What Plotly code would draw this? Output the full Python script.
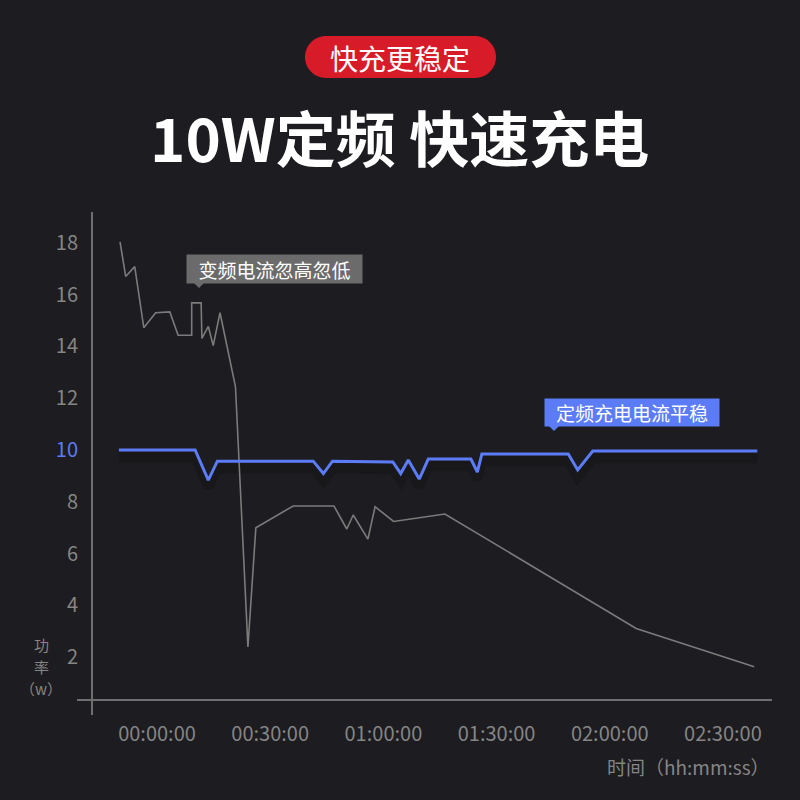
import plotly.graph_objects as go

# ---- data (minutes from start, watts) ----
var_minutes = [-9.8, -8.3, -5.9, -3.5, -0.35, 3.4, 5.6, 9.2, 9.2, 11.7, 11.9, 13.6, 14.9, 16.7,
               20.8, 24.1, 26.2, 36.1, 46.9, 50.3, 52.0, 55.9, 57.8, 62.7, 76.3, 127.0, 158.3]
var_power = [18.04, 16.7, 17.08, 14.72, 15.3, 15.33, 14.43, 14.43, 15.68, 15.68, 14.31, 14.77, 14.03, 15.3,
             12.44, 2.4, 7.0, 7.84, 7.84, 6.95, 7.49, 6.56, 7.81, 7.24, 7.53, 3.11, 1.63]

fix_minutes = [-10.1, 10.1, 13.6, 16.0, 41.4, 44.1, 46.5, 62.5, 64.6, 66.6, 69.5, 71.9, 83.2, 84.9,
               86.1, 109.0, 111.5, 115.5, 159.1]
fix_power = [10.0, 10.0, 8.84, 9.57, 9.57, 9.09, 9.57, 9.54, 9.09, 9.61, 8.88, 9.65, 9.65, 9.15,
             9.85, 9.85, 9.23, 9.96, 9.96]

tick_minutes = [0, 30, 60, 90, 120, 150]
tick_labels = ["00:00:00", "00:30:00", "01:00:00", "01:30:00", "02:00:00", "02:30:00"]
y_ticks = [2, 4, 6, 8, 10, 12, 14, 16, 18]
y_title_lines = ["功", "率", "（w）"]

FONT = "Noto Sans CJK SC"
BG = "#1d1c20"
GRAY_TXT = "#858585"
BLUE = "#5b7cf6"

# plot area in pixels
L, R, T, B = 92, 772, 212, 700
W, H = R - L, B - T


def fx(px):
    return (px - L) / W


def fy(py):
    return (B - py) / H


def path(points):
    return "M " + " L ".join(f"{fx(a):.4f},{fy(b):.4f}" for a, b in points) + " Z"


fig = go.Figure()

# soft shadow under the blue line
fig.add_trace(go.Scatter(x=fix_minutes, y=[v - 0.28 for v in fix_power], mode="lines",
                         line=dict(color="rgba(0,0,0,0.16)", width=10), hoverinfo="skip", showlegend=False))
fig.add_trace(go.Scatter(x=var_minutes, y=var_power, mode="lines", name="变频",
                         line=dict(color="#7b7b7b", width=1.6), showlegend=False))
fig.add_trace(go.Scatter(x=fix_minutes, y=fix_power, mode="lines", name="定频",
                         line=dict(color=BLUE, width=3), showlegend=False))

y_text = [f"<span style='color:{BLUE}'>{v}</span>" if v == 10 else str(v) for v in y_ticks]

fig.update_xaxes(range=[(L - 157) / 3.773, (R - 157) / 3.773], tickvals=tick_minutes, ticktext=tick_labels,
                 showgrid=False, zeroline=False, showline=False, ticks="",
                 ticklabelstandoff=20, tickfont=dict(family=FONT, size=20, color=GRAY_TXT))
fig.update_yaxes(range=[(709 - B) / 25.9, (709 - T) / 25.9], tickvals=y_ticks, ticktext=y_text,
                 showgrid=False, zeroline=False, showline=False, ticks="",
                 ticklabelstandoff=13, tickfont=dict(family=FONT, size=20, color=GRAY_TXT))

shapes = []
# soft radial glow in the background (stacked translucent discs)
for r in range(640, 60, -48):
    shapes.append(dict(type="circle", xref="paper", yref="paper", layer="below",
                       x0=fx(530 - r), x1=fx(530 + r), y0=fy(430 + r), y1=fy(430 - r),
                       fillcolor="rgba(255,255,255,0.0045)", line=dict(width=0)))
shapes += [
    # axis lines (crossed at the corner)
    dict(type="line", xref="paper", yref="paper", x0=fx(77), x1=1, y0=0, y1=0,
         line=dict(color="#6f6f6f", width=2)),
    dict(type="line", xref="paper", yref="paper", x0=0, x1=0, y0=fy(715), y1=1,
         line=dict(color="#6f6f6f", width=2)),
    # red pill
    dict(type="path", xref="paper", yref="paper", layer="below",
         path=(f"M {fx(326):.4f},{fy(36):.4f} L {fx(475):.4f},{fy(36):.4f} "
               f"C {fx(486.6):.4f},{fy(36):.4f} {fx(496):.4f},{fy(45.4):.4f} {fx(496):.4f},{fy(57):.4f} "
               f"C {fx(496):.4f},{fy(68.6):.4f} {fx(486.6):.4f},{fy(78):.4f} {fx(475):.4f},{fy(78):.4f} "
               f"L {fx(326):.4f},{fy(78):.4f} "
               f"C {fx(314.4):.4f},{fy(78):.4f} {fx(305):.4f},{fy(68.6):.4f} {fx(305):.4f},{fy(57):.4f} "
               f"C {fx(305):.4f},{fy(45.4):.4f} {fx(314.4):.4f},{fy(36):.4f} {fx(326):.4f},{fy(36):.4f} Z"),
         fillcolor="#d81b28", line=dict(width=0)),
    # callout pointers
    dict(type="path", xref="paper", yref="paper", path=path([(193, 282), (205, 282), (199, 288)]),
         fillcolor="#6b6b6b", line=dict(width=0)),
    dict(type="path", xref="paper", yref="paper", path=path([(548, 425), (560, 425), (554, 431)]),
         fillcolor=BLUE, line=dict(width=0)),
]

annotations = [
    dict(text="快充更稳定", x=fx(400), y=fy(58), font=dict(family=FONT, size=28, color="white")),
    dict(text="<b>10W定频 快速充电</b>", x=fx(399), y=fy(136), font=dict(family=FONT, size=60, color="white")),
    dict(text="变频电流忽高忽低", x=fx(274.5), y=fy(269), bgcolor="#6b6b6b", width=175, height=28, borderpad=0,
         font=dict(family=FONT, size=19, color="white")),
    dict(text="定频充电电流平稳", x=fx(632), y=fy(412.5), bgcolor=BLUE, width=174, height=27, borderpad=0,
         font=dict(family=FONT, size=19, color="white")),
    dict(text="时间（hh:mm:ss）", x=fx(772), y=fy(766), xanchor="right",
         font=dict(family=FONT, size=19, color=GRAY_TXT)),
]
for i, line in enumerate(y_title_lines):
    annotations.append(dict(text=line, x=fx(41), y=fy(644 + 22 * i), height=20, borderpad=0,
                            font=dict(family=FONT, size=15, color=GRAY_TXT)))
for a in annotations:
    a.update(xref="paper", yref="paper", showarrow=False)
    a.setdefault("xanchor", "center")
    a.setdefault("yanchor", "middle")

fig.update_layout(width=800, height=800, autosize=False,
                  margin=dict(l=L, r=800 - R, t=T, b=800 - B),
                  paper_bgcolor=BG, plot_bgcolor="rgba(0,0,0,0)",
                  shapes=shapes, annotations=annotations, showlegend=False)

fig.write_html("out.html", config={"displayModeBar": False},
               post_script="document.body.style.margin='0';document.body.style.background='%s';" % BG)
